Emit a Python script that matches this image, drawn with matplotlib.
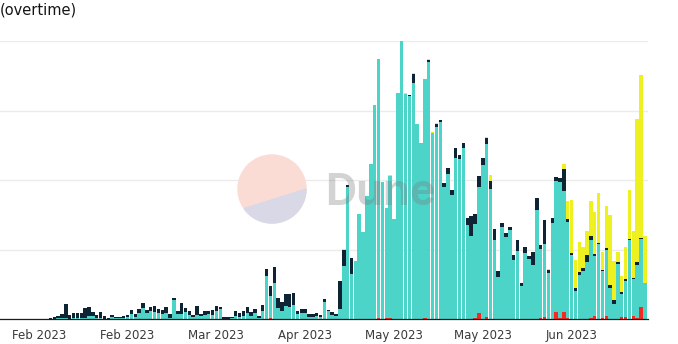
import numpy as np
import pandas as pd
import matplotlib
matplotlib.use("Agg")
import matplotlib.pyplot as plt
import matplotlib.dates as mdates
from matplotlib.patches import Circle, Polygon

# daily values, 2023-02-06 .. 2023-07-10 (stacked: red, teal, navy, yellow)
dates = pd.date_range("2023-02-06", periods=155, freq="D")

teal = [
    0, 0, 1, 1, 1, 0.5, 1, 1, 1, 1,
    3, 3, 1, 1, 0.5, 0.3, 2, 1, 1, 1,
    2, 4.7, 2, 5.3, 10.7, 5.7, 8, 7.3, 5.7, 4.7,
    6.3, 1.5, 18.9, 4.7, 4.7, 7.3, 4, 2, 4, 3,
    4, 5, 4, 8.3, 10.3, 0.5, 0.5, 0.7, 3, 2,
    3, 5.7, 3, 5.7, 1.5, 8.3, 43, 21.7, 35.7, 10.7,
    7.7, 13, 11.7, 14, 5, 5.7, 5.7, 2.3, 2.3, 3.3,
    2, 17.3, 7.7, 4, 3, 9.7, 53.3, 132.3, 45, 58,
    104.7, 87, 123, 155, 213.7, 259, 136.7, 110, 142.3, 99.7,
    225.7, 278, 225.3, 223.3, 236.3, 194.7, 175.7, 239, 257.3, 185.7,
    192, 197.3, 132.3, 144.7, 124, 160.7, 160, 171.3, 94, 83.3,
    94, 126, 153.7, 173.3, 130.3, 78.7, 41.7, 92.3, 82, 89,
    58.7, 68, 33.3, 66.3, 59.7, 54, 109, 69, 72.7, 45.7,
    96.3, 131, 135.7, 121, 96.3, 63.7, 28.3, 44.3, 48, 56.7,
    77.4, 59.4, 75, 47.3, 65.7, 30.7, 14.7, 55, 23.3, 36.6,
    79, 36.4, 53.3, 68, 35.7,
]
navy = [
    1, 2, 2, 3.7, 13.7, 3.5, 4.7, 4.7, 4.7, 9.7,
    9, 4, 3, 5.7, 2.2, 1, 2, 1, 1, 2,
    2, 4.6, 2.7, 4.6, 5.6, 3.3, 3.7, 5.4, 4, 4,
    5.4, 3.2, 2, 3.6, 11.6, 4, 4, 2, 9, 2,
    4, 3, 5, 4.7, 1.4, 1.2, 1.2, 1.6, 5, 3.7,
    5, 6, 3.7, 4.3, 1.8, 5.4, 6.7, 10, 16.6, 10.6,
    9.6, 12, 13.3, 11.7, 3, 4.6, 4, 2.4, 2.4, 2.4,
    1.7, 3, 1.3, 2.7, 2, 28.3, 15.7, 1.7, 15.7, 0,
    0, 0, 0, 0, 0, 0, 0, 0, 0, 0,
    0, 0, 0, 0.3, 8.7, 0.8, 0, 0, 1.7, 0.5,
    3.3, 1.7, 4, 6.6, 4.7, 10, 4, 4.4, 6.7, 19.7,
    10.3, 11.3, 7.3, 6, 8, 11, 6, 3.4, 3.7, 2.7,
    5, 11, 2.4, 5.4, 3.3, 12.7, 11.7, 4, 24.3, 3.3,
    4.4, 3.7, 4.6, 21.7, 3, 2.6, 2.4, 2.7, 2.7, 7.3,
    4.6, 2.3, 1.3, 0.7, 1.7, 3.3, 4.3, 2, 2.3, 1.7,
    1, 1.6, 3.3, 1, 0,
]
yellow = [
    0, 0, 0, 0, 0, 0, 0, 0, 0, 0,
    0, 0, 0, 0, 0, 0, 0, 0, 0, 0,
    0, 0, 0, 0, 0, 0, 0, 0, 0, 0,
    0, 0, 0, 0, 0, 0, 0, 0, 0, 0,
    0, 0, 0, 0, 0, 0, 0, 0, 0, 0,
    0, 0, 0, 0, 0, 0, 0, 0, 0, 0,
    0, 0, 0, 0, 0, 0, 0, 0, 0, 0,
    0, 0, 0, 0, 0, 0, 0.6, 0, 0, 0,
    0, 0, 0, 0, 0, 0, 0, 0, 0.6, 0.6,
    0, 0, 0.6, 0.5, 1.3, 0, 0.6, 0.6, 0.7, 0.5,
    0.5, 0, 0, 0, 0, 0, 0, 0.5, 0.5, 0,
    0, 0.5, 0.5, 0.5, 5.7, 0.8, 0.6, 0.6, 0.6, 0.5,
    0, 0, 0.4, 0, 0, 0, 0.5, 0, 0, 0.6,
    0.6, 0.4, 0, 5, 18.3, 52.7, 28.3, 30.3, 21.6, 24,
    34.4, 42.3, 49.7, 17.7, 42.3, 70, 39, 10.3, 15.7, 31.7,
    49, 46.7, 142.7, 163.3, 47.6,
]
red = [
    0, 0, 0, 0, 0, 0, 0, 0, 0, 0,
    0, 0, 0, 0, 0, 0, 0, 0, 0, 0,
    0, 0, 0, 0.4, 0, 0, 0, 0, 0, 0,
    0, 0, 0.4, 0, 0, 0, 0, 0, 0, 0,
    0, 0, 0, 0, 0, 0, 0, 0, 0, 0,
    0, 0, 0, 0, 0, 0, 0, 1.3, 0, 0,
    0, 0, 0, 0, 0, 0, 0, 0, 0, 0,
    0, 0, 0, 0, 0, 0, 0, 0, 0, 0,
    0, 0, 0, 0, 0, 0.7, 0, 0.7, 0.7, 0,
    0, 0, 0, 0, 0, 0, 0, 0.7, 0, 0,
    0, 0, 0, 0, 0, 0, 0, 0, 0, 0,
    0.7, 5.7, 0, 2, 0, 0, 0, 0, 0, 0,
    0, 0, 0, 0, 0, 0, 0, 0.7, 2, 0,
    0, 7, 1, 7, 0.7, 0, 0, 0, 0, 0,
    1.3, 3.3, 0, 1, 3.3, 0, 0, 0, 1.7, 1.7,
    0, 3.3, 0.7, 11.7, 0,
]

tick_dates = pd.date_range("2023-02-03", periods=7, freq="23D")

c_teal, c_navy, c_yellow, c_red = "#4dd4c9", "#0e2333", "#eef01f", "#f42a22"

fig = plt.figure(figsize=(6.78, 3.44), dpi=100)
ax = fig.add_axes([0.0, 25 / 344, 648 / 678, 278 / 344])

red = np.array(red)
teal = np.array(teal)
navy = np.array(navy)
yellow = np.array(yellow)

w = 0.9
ax.bar(dates, red, width=w, color=c_red, linewidth=0)
ax.bar(dates, teal, width=w, bottom=red, color=c_teal, linewidth=0)
ax.bar(dates, navy, width=w, bottom=red + teal, color=c_navy, linewidth=0)
ax.bar(dates, yellow, width=w, bottom=red + teal + navy, color=c_yellow, linewidth=0)

base = mdates.date2num(pd.Timestamp("2023-02-03"))
ax.set_xlim(base - 10.05, base + 157.8)
ax.set_ylim(0, 278)
ax.set_yticks(np.linspace(0, 278, 5))
ax.yaxis.grid(True, color="#ebebeb", linewidth=1)
ax.set_axisbelow(True)
ax.tick_params(axis="y", left=False, labelleft=False)

ax.set_xticks(tick_dates)
ax.xaxis.set_major_formatter(mdates.DateFormatter("%b %Y"))
ax.tick_params(axis="x", length=0, pad=7, labelsize=8.5, labelcolor="#3a3a3a")

for s in ["top", "right", "left"]:
    ax.spines[s].set_visible(False)
ax.spines["bottom"].set_color("#1c1c1c")
ax.spines["bottom"].set_linewidth(0.9)

fig.text(-0.001, 1 - 10 / 344, "(overtime)", fontsize=10.5, color="#151515",
         ha="left", va="center")

# Dune watermark
cx, cy, r = 2.72, 1.55, 0.34
fig.add_artist(Circle((cx, cy), r, transform=fig.dpi_scale_trans,
                      color="#fbdcd5", zorder=5))
ang = np.radians(np.linspace(215, 360, 60))
seg = np.column_stack([cx + r * np.cos(ang), cy + r * np.sin(ang)])
fig.add_artist(Polygon(seg, closed=True, transform=fig.dpi_scale_trans,
                       color="#d9d8e6", zorder=6))
fig.text(325 / 678, (344 - 205) / 344, "Dune", fontsize=31, fontweight="bold",
         family="Inter", color="#7a7a7a", alpha=0.33, ha="left", va="baseline",
         zorder=10)

fig.savefig("out.png", dpi=100)
